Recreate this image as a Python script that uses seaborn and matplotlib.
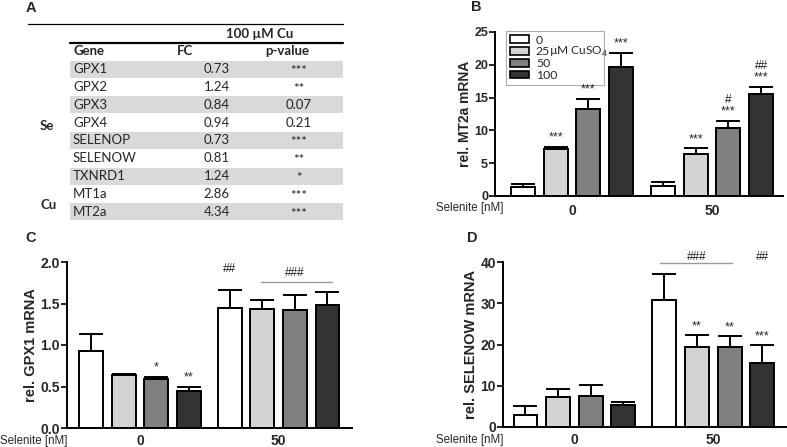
import matplotlib
matplotlib.use("Agg")
import matplotlib.pyplot as plt
from matplotlib.patches import Patch, Rectangle
import pandas as pd
import seaborn as sns

sns.set_style("white")
plt.rcParams['font.family'] = ['Liberation Sans', 'DejaVu Sans']
plt.rcParams['mathtext.fontset'] = 'custom'
plt.rcParams['mathtext.rm'] = 'Lato'

# Table (panel A)
genes = ["GPX1", "GPX2", "GPX3", "GPX4", "SELENOP", "SELENOW", "TXNRD1", "MT1a", "MT2a"]
fold_change = ["0.73", "1.24", "0.84", "0.94", "0.73", "0.81", "1.24", "2.86", "4.34"]
p_values = ["***", "**", "0.07", "0.21", "***", "**", "*", "***", "***"]

# Bar charts (panels B-D), order: selenite 0 (Cu 0,25,50,100), selenite 50 (Cu 0,25,50,100)
selenite = ["0", "50"]
cuso4 = ["0", "25", "50", "100"]
bar_colors = ["#ffffff", "#d3d3d3", "#808080", "#333333"]

mt2a_mean = [1.4, 7.15, 13.2, 19.7, 1.6, 6.4, 10.3, 15.6]
mt2a_err = [0.5, 0.35, 1.65, 2.15, 0.55, 0.85, 1.15, 1.05]
mt2a_stars = ["", "***", "***", "***", "", "***", "***", "***"]
mt2a_hash = ["", "", "", "", "", "", "#", "##"]

gpx1_mean = [0.93, 0.64, 0.59, 0.45, 1.44, 1.43, 1.42, 1.48]
gpx1_err = [0.2, 0.01, 0.03, 0.05, 0.22, 0.11, 0.18, 0.16]
gpx1_stars = ["", "", "*", "**", "", "", "", ""]
gpx1_hash = ["", "", "", "", "##", "", "", ""]

selenow_mean = [2.8, 7.3, 7.4, 5.4, 30.8, 19.3, 19.5, 15.4]
selenow_err = [2.2, 1.8, 2.9, 0.65, 6.2, 3.0, 2.5, 4.4]
selenow_stars = ["", "", "", "", "", "**", "**", "***"]

W, H = 787, 447
fig = plt.figure(figsize=(W / 100, H / 100), dpi=100)

# overlay axes in pixel coords for table and free text
ov = fig.add_axes([0, 0, 1, 1])
ov.set_xlim(0, W)
ov.set_ylim(H, 0)
ov.axis("off")

tfont = ['Lato', 'DejaVu Sans']
tsize = 9.5
ov.plot([28, 343], [24.3, 24.3], color="black", lw=0.9)
ov.plot([70, 343], [42.7, 42.7], color="black", lw=1.6)
ov.text(260, 34, "100 µM Cu", ha="center", va="center", fontsize=tsize, fontweight="bold", family=tfont)
ov.text(73, 51, "Gene", ha="left", va="center", fontsize=tsize, fontweight="bold", family=tfont)
ov.text(185, 51, "FC", ha="center", va="center", fontsize=tsize, fontweight="bold", family=tfont)
ov.text(287, 51, "p-value", ha="center", va="center", fontsize=tsize, fontweight="bold", family=tfont)
for i, (g, fc, p) in enumerate(zip(genes, fold_change, p_values)):
    top = 60.7 + 17.8 * i
    if i % 2 == 0:
        ov.add_patch(Rectangle((70, top), 273, 17.0, facecolor="#d9d9d9", edgecolor="none"))
    yc = top + 8.6
    ov.text(73, yc, g, ha="left", va="center", fontsize=tsize, family=tfont)
    ov.text(230, yc, fc, ha="right", va="center", fontsize=tsize, family=tfont)
    ov.text(299, yc + (2 if "*" in p else 0), p, ha="center", va="center", fontsize=tsize, family=tfont)
ov.text(47, 126, "Se", ha="center", va="center", fontsize=tsize, fontweight="bold", family=tfont)
ov.text(49, 205, "Cu", ha="center", va="center", fontsize=tsize, fontweight="bold", family=tfont)

for lab, x, y in [("A", 31, 8), ("B", 476, 7), ("C", 31, 238), ("D", 472, 238)]:
    ov.text(x, y, lab, ha="center", va="center", fontsize=10.5, fontweight="bold")


def bar_panel(rect, mean, err, stars, hashes, ylim, yticks, ylabel, xlim, xpad, sel_y, sel_x,
              tick_fs, label_fs):
    ax = fig.add_axes([rect[0] / W, 1 - rect[3] / H, (rect[2] - rect[0]) / W, (rect[3] - rect[1]) / H])
    df = pd.DataFrame({
        "selenite": [s for s in selenite for _ in cuso4],
        "dose": [d for _ in selenite for d in cuso4],
        "value": mean,
    })
    sns.barplot(data=df, x="selenite", y="value", hue="dose", order=selenite, hue_order=cuso4,
                palette=bar_colors, edgecolor="black", linewidth=1.4, width=0.94, gap=0.27,
                errorbar=None, legend=False, ax=ax)
    bar_sets = list(ax.containers)
    xs = [0] * 8
    for i, cont in enumerate(bar_sets):
        for j, bar in enumerate(cont):
            k = j * 4 + i
            xs[k] = bar.get_x() + bar.get_width() / 2
            ax.errorbar(xs[k], mean[k], yerr=[[0], [err[k]]], color="black", elinewidth=1.4,
                        capsize=8.5, capthick=1.4, zorder=3)
            top = mean[k] + err[k]
            if stars[k]:
                ax.annotate(stars[k], (xs[k], top), xytext=(0, 6.5), textcoords="offset points",
                            ha="center", va="center", fontsize=9, annotation_clip=False, zorder=7)
            if hashes and hashes[k]:
                ax.annotate(hashes[k], (xs[k], top), xytext=(0, 15), textcoords="offset points",
                            ha="center", va="center", fontsize=8.5, color="#222222",
                            annotation_clip=False, zorder=7)
    ax.set_xlim(*xlim)
    ax.set_ylim(*ylim)
    ax.set_yticks(yticks)
    ax.set_xticks([0, 1])
    ax.set_xticklabels(selenite, fontweight="bold", fontsize=10)
    ax.tick_params(axis="x", length=0, pad=xpad)
    ax.tick_params(axis="y", direction="out", length=4, width=1.4, labelsize=tick_fs, pad=1, left=True)
    ax.set_xlabel("")
    ax.set_ylabel(ylabel, fontweight="bold", fontsize=label_fs, labelpad=1.5)
    sns.despine(ax=ax)
    for s in ["left", "bottom"]:
        ax.spines[s].set_linewidth(1.4)
        ax.spines[s].set_color("black")
    ov.text(sel_x, sel_y, "Selenite [nM]", ha="right", va="center", fontsize=8.3)
    return ax, xs


axB, xB = bar_panel((495, 32, 783, 196), mt2a_mean, mt2a_err, mt2a_stars, mt2a_hash,
                    (0, 25), [0, 5, 10, 15, 20, 25], "rel. MT2a mRNA", (-0.55, 1.507), 6, 208, 503,
                    9, 10)
for t in axB.get_yticklabels():
    t.set_fontweight("bold")
handles = [Patch(facecolor=c, edgecolor="black", linewidth=1.2) for c in bar_colors]
leg = axB.legend(handles, cuso4, loc="upper left", bbox_to_anchor=(0.038, 0.69, 0.34, 0.316),
                 mode="expand", prop={"family": tfont, "size": 8.8},
                 handlelength=1.6, handleheight=0.6, labelspacing=0.06, borderpad=0.3,
                 handletextpad=0.55, fancybox=False, frameon=True, edgecolor="#999999",
                 borderaxespad=0)
leg.get_frame().set_linewidth(0.8)
leg.set_zorder(5)
axB.text(549, 52, "µM CuSO$_4$", ha="left", va="center", fontsize=8.6, family=tfont,
         transform=ov.transData, zorder=8)

axC, xC = bar_panel((67, 262, 352, 428), gpx1_mean, gpx1_err, gpx1_stars, gpx1_hash,
                    (0, 2.0), [0.0, 0.5, 1.0, 1.5, 2.0], "rel. GPX1 mRNA", (-0.527, 1.53), 4, 441, 67,
                    10, 10.5)
axC.yaxis.set_major_formatter(matplotlib.ticker.FormatStrFormatter("%.1f"))
for t in axC.get_yticklabels():
    t.set_fontweight("bold")
axC.plot([xC[5] - 0.01, xC[7] + 0.03], [1.76, 1.76], color="#999999", lw=1, clip_on=False)
axC.text((xC[5] + xC[7]) / 2, 1.87, "###", ha="center", va="center", fontsize=8.5, color="#222222")

axD, xD = bar_panel((503, 262, 787, 427), selenow_mean, selenow_err, selenow_stars, None,
                    (0, 40), [0, 10, 20, 30, 40], "rel. SELENOW mRNA", (-0.514, 1.53), 4, 440, 503,
                    10, 10.5)
for t in axD.get_yticklabels():
    t.set_fontweight("bold")
axD.plot([xD[4] - 0.03, xD[6] + 0.02], [39.8, 39.8], color="#999999", lw=1, clip_on=False)
axD.text((xD[4] + xD[6]) / 2, 41.2, "###", ha="center", va="center", fontsize=8.5, color="#222222")
axD.text(xD[7], 41.2, "##", ha="center", va="center", fontsize=8.5, color="#222222")

fig.savefig("out.png", dpi=100)
